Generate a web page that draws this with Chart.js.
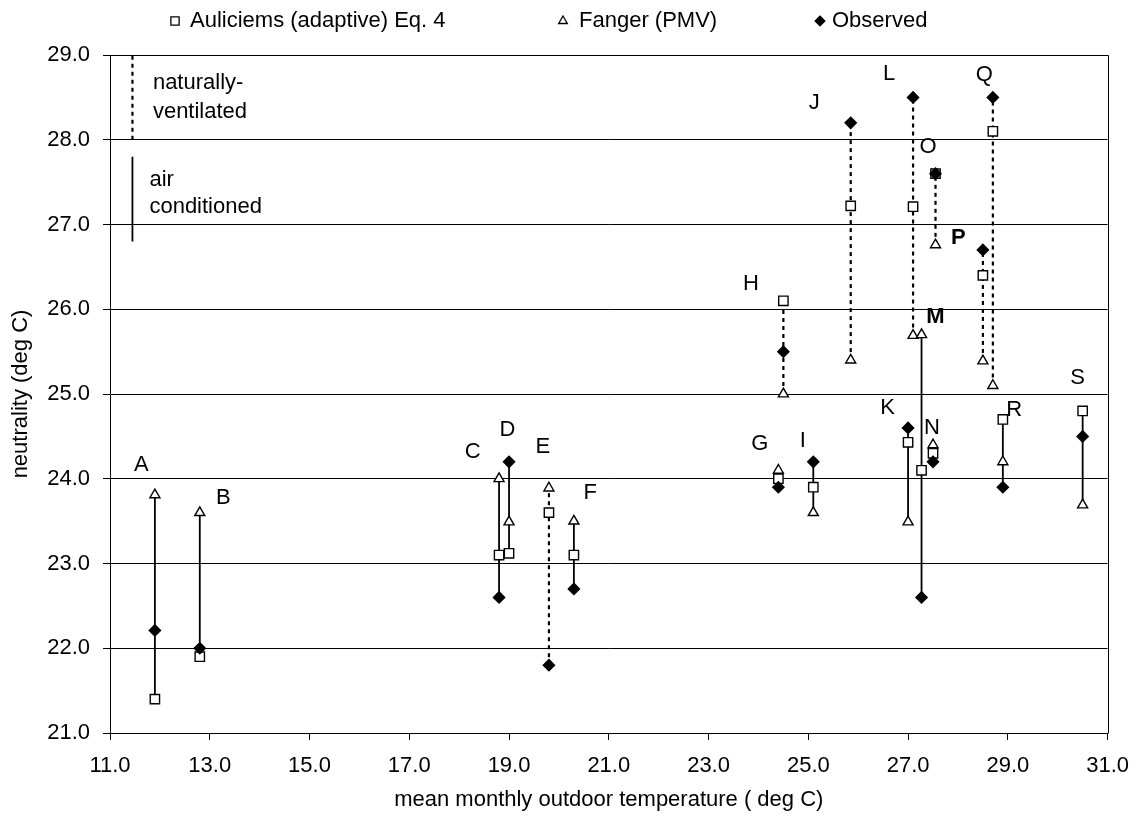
<!DOCTYPE html>
<html>
<head>
<meta charset="utf-8">
<title>neutrality vs outdoor temperature</title>
<script src="https://cdn.jsdelivr.net/npm/chart.js@4.4.1/dist/chart.umd.min.js"></script>
<style>
    html, body { margin: 0; padding: 0; background: #fff; }
    canvas { display: block; }
</style>
</head>
<body>
<canvas id="myChart" width="1142" height="816"></canvas>
<script>
// building groups and their mean monthly outdoor temperature
const groups = ['A', 'B', 'C', 'D', 'E', 'F', 'G', 'H', 'I', 'J', 'K', 'L', 'M', 'N', 'O', 'P', 'Q', 'R', 'S'];
const outdoorTemp = [11.9, 12.8, 18.8, 19.0, 19.8, 20.3, 24.4, 24.5, 25.1, 25.85, 27.0, 27.1, 27.27, 27.5, 27.55, 28.5, 28.7, 28.9, 30.5];

// neutral temperatures
const auliciems = [21.4, 21.9, 23.1, 23.12, 23.6, 23.1, 24.0, 26.1, 23.9, 27.22, 24.43, 27.21, 24.1, 24.3, 27.6, 26.4, 28.1, 24.7, 24.8];
const fanger = [23.81, 23.6, 24.0, 23.49, 23.89, 23.5, 24.1, 25.0, 23.6, 25.4, 23.49, 25.69, 25.7, 24.4, 26.76, 25.39, 25.1, 24.2, 23.69];
const observed = [22.21, 22.0, 22.6, 24.2, 21.8, 22.7, 23.9, 25.5, 24.2, 28.2, 24.6, 28.5, 22.6, 24.2, 27.6, 26.7, 28.5, 23.9, 24.5];

// nv = naturally ventilated (dotted), ac = air conditioned (solid)
const building = ['ac', 'ac', 'ac', 'ac', 'nv', 'ac', 'ac', 'nv', 'ac', 'nv', 'ac', 'nv', 'ac', 'ac', 'nv', 'nv', 'nv', 'ac', 'ac'];
const boldGroups = ['M', 'P'];

// where each letter sits, in axis units
const labelX = [11.63, 13.27, 18.27, 18.97, 19.68, 20.63, 24.03, 23.85, 24.89, 25.12, 26.59, 26.62, 27.55, 27.48, 27.4, 28.01, 28.53, 29.13, 30.4];
const labelY = [24.16, 23.77, 24.32, 24.58, 24.38, 23.83, 24.41, 26.3, 24.45, 28.43, 24.84, 28.78, 25.91, 24.6, 27.92, 26.84, 28.76, 24.81, 25.19];

const xTicks = [11, 13, 15, 17, 19, 21, 23, 25, 27, 29, 31];
const yTicks = [21, 22, 23, 24, 25, 26, 27, 28, 29];

const seriesNames = ['Auliciems (adaptive) Eq. 4', 'Fanger (PMV)', 'Observed'];

// line-style key in the top left corner
const keyX = 11.45;
const nvKeyY = [29.0, 28.0];
const acKeyY = [27.8, 26.8];
const keyText = [
    { text: 'naturally-', x: 11.86, y: 28.67 },
    { text: 'ventilated', x: 11.86, y: 28.33 },
    { text: 'air', x: 11.79, y: 27.52 },
    { text: 'conditioned', x: 11.79, y: 27.21 }
];

const FONT = '"Liberation Sans", Arial, sans-serif';
const markerStyle = [
    { pointStyle: 'rect', radius: 6.6, bg: '#fff' },
    { pointStyle: 'triangle', radius: 5.8, bg: '#fff' },
    { pointStyle: 'rectRot', radius: 5.6, bg: '#000' }
];

const plotFrame = {
    id: 'plotFrame',
    afterDatasetsDraw: function (chart) {
        const { ctx, chartArea } = chart;
        ctx.save();
        ctx.strokeStyle = '#000';
        ctx.lineWidth = 1;
        ctx.beginPath();
        ctx.moveTo(Math.round(chartArea.left) + 0.5, Math.round(chartArea.top) + 0.5);
        ctx.lineTo(Math.round(chartArea.right) + 0.5, Math.round(chartArea.top) + 0.5);
        ctx.lineTo(Math.round(chartArea.right) + 0.5, Math.round(chartArea.bottom) + 0.5);
        ctx.stroke();
        ctx.restore();
    }
};

const groupLabels = {
    id: 'groupLabels',
    afterDatasetsDraw: function (chart) {
        const { ctx } = chart;
        const x = chart.scales.x;
        const y = chart.scales.y;
        ctx.save();
        ctx.fillStyle = '#000';
        ctx.textAlign = 'center';
        ctx.textBaseline = 'middle';
        groups.forEach(function (g, i) {
            ctx.font = (boldGroups.indexOf(g) >= 0 ? 'bold ' : '') + '22px ' + FONT;
            ctx.fillText(g, x.getPixelForValue(labelX[i]), y.getPixelForValue(labelY[i]));
        });

        ctx.font = '22px ' + FONT;
        ctx.textAlign = 'left';
        keyText.forEach(function (k) {
            ctx.fillText(k.text, x.getPixelForValue(k.x), y.getPixelForValue(k.y));
        });
        ctx.restore();
    }
};

// legend strip above the plot
const topLegend = {
    id: 'topLegend',
    afterDraw: function (chart) {
        const { ctx } = chart;
        const symbolX = [175, 563, 820];
        const textX = [190, 579, 832];
        const legendY = 21;
        ctx.save();
        ctx.font = '22px ' + FONT;
        ctx.textBaseline = 'middle';
        ctx.textAlign = 'left';
        seriesNames.forEach(function (name, s) {
            ctx.fillStyle = markerStyle[s].bg;
            ctx.strokeStyle = '#000';
            ctx.lineWidth = 1.3;
            Chart.helpers.drawPoint(ctx, {
                pointStyle: markerStyle[s].pointStyle,
                radius: markerStyle[s].radius - 0.8,
                rotation: 0,
                borderWidth: 1.3
            }, symbolX[s], legendY);
            ctx.fillStyle = '#000';
            ctx.fillText(name, textX[s], legendY);
        });
        ctx.restore();
    }
};

init();

function init() {
    const datasets = [];
    const series = [auliciems, fanger, observed];

    // markers, observed on top
    series.forEach(function (values, s) {
        datasets.push({
            label: seriesNames[s],
            data: values.map(function (v, i) { return { x: outdoorTemp[i], y: v }; }),
            pointStyle: markerStyle[s].pointStyle,
            pointRadius: markerStyle[s].radius,
            pointBackgroundColor: markerStyle[s].bg,
            pointBorderColor: '#000',
            pointBorderWidth: 1.4,
            showLine: false,
            order: 2 - s
        });
    });

    // vertical range line for every group
    groups.forEach(function (g, i) {
        const vals = [auliciems[i], fanger[i], observed[i]];
        datasets.push(rangeLine(outdoorTemp[i], Math.min.apply(null, vals), Math.max.apply(null, vals), building[i] === 'nv'));
    });

    datasets.push(rangeLine(keyX, nvKeyY[1], nvKeyY[0], true));
    datasets.push(rangeLine(keyX, acKeyY[1], acKeyY[0], false));

    createChart(datasets);
}

function rangeLine(x, lo, hi, dotted) {
    return {
        label: '',
        data: [{ x: x, y: lo }, { x: x, y: hi }],
        showLine: true,
        borderColor: '#000',
        borderWidth: dotted ? 2.2 : 1.8,
        borderDash: dotted ? [4, 4] : [],
        pointRadius: 0,
        order: 5
    };
}

function oneDecimal(value) {
    return Number(value).toFixed(1);
}

function createChart(datasets) {
    const ctx = document.getElementById('myChart').getContext('2d');

    new Chart(ctx, {
        type: 'scatter',
        data: { datasets: datasets },
        options: {
            responsive: false,
            animation: false,
            events: [],
            layout: { padding: { top: 55, right: 32, left: 0, bottom: 0 } },
            plugins: {
                legend: { display: false },
                tooltip: { enabled: false }
            },
            scales: {
                x: {
                    type: 'linear',
                    min: 11,
                    max: 31,
                    afterBuildTicks: function (scale) {
                        scale.ticks = xTicks.map(function (v) { return { value: v }; });
                    },
                    afterFit: function (scale) { scale.height = 83; },
                    ticks: {
                        callback: oneDecimal,
                        color: '#000',
                        font: { family: FONT, size: 22 },
                        padding: 13,
                        maxRotation: 0,
                        autoSkip: false
                    },
                    grid: { drawOnChartArea: false, drawTicks: true, tickLength: 7, color: '#000' },
                    border: { color: '#000', width: 1 },
                    title: {
                        display: true,
                        text: 'mean monthly outdoor temperature ( deg C)',
                        color: '#000',
                        font: { family: FONT, size: 22 },
                        padding: { top: 0, bottom: 3 }
                    }
                },
                y: {
                    type: 'linear',
                    min: 21,
                    max: 29,
                    afterBuildTicks: function (scale) {
                        scale.ticks = yTicks.map(function (v) { return { value: v }; });
                    },
                    afterFit: function (scale) { scale.width = 110; },
                    ticks: {
                        callback: oneDecimal,
                        color: '#000',
                        font: { family: FONT, size: 22 },
                        padding: 13,
                        autoSkip: false
                    },
                    grid: { color: '#000', lineWidth: 1, tickLength: 7 },
                    border: { color: '#000', width: 1 },
                    title: {
                        display: true,
                        text: 'neutrality (deg C)',
                        color: '#000',
                        font: { family: FONT, size: 22 },
                        padding: { top: 8, bottom: 0 }
                    }
                }
            }
        },
        plugins: [plotFrame, groupLabels, topLegend]
    });
}
</script>
</body>
</html>
